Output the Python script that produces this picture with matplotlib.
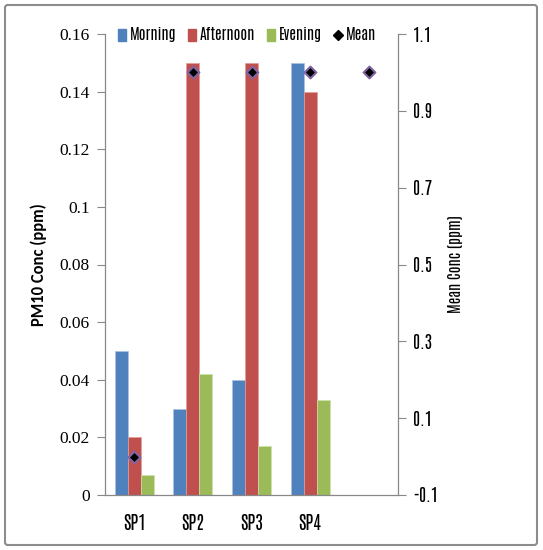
import matplotlib
matplotlib.use("Agg")
import matplotlib.pyplot as plt
import numpy as np
from matplotlib.patches import FancyBboxPatch, Patch
from matplotlib.lines import Line2D

categories = ["SP1", "SP2", "SP3", "SP4", ""]
morning = [0.05, 0.03, 0.04, 0.15]
afternoon = [0.02, 0.15, 0.15, 0.14]
evening = [0.007, 0.042, 0.017, 0.033]
mean_conc = [0.0, 1.0, 1.0, 1.0, 1.0]

left_ticks = [0, 0.02, 0.04, 0.06, 0.08, 0.1, 0.12, 0.14, 0.16]
left_labels = ["0", "0.02", "0.04", "0.06", "0.08", "0.1", "0.12", "0.14", "0.16"]
right_ticks = [-0.1, 0.1, 0.3, 0.5, 0.7, 0.9, 1.1]
right_labels = ["-0.1", "0.1", "0.3", "0.5", "0.7", "0.9", "1.1"]

C_MORN = "#4F81BD"
C_AFT = "#C0504D"
C_EVE = "#9BBB59"
GRID = "#888888"

narrow = ["Antonio", "Pathway Gothic One", "Barlow Condensed", "DejaVu Sans"]
serif = ["Liberation Serif", "DejaVu Serif"]
sans = ["Carlito", "Open Sans", "DejaVu Sans"]

W, H = 543, 550
fig = plt.figure(figsize=(W / 100, H / 100), dpi=100)

# outer chart border
fig.patches.append(FancyBboxPatch((5 / W, 5 / H), 532 / W, 540 / H,
                                  boxstyle="round,pad=0,rounding_size=0.005",
                                  transform=fig.transFigure, fill=False,
                                  edgecolor="#8c8c8c", linewidth=1.5))

x0, x1, ytop, ybot = 105, 398, 34, 495
ax = fig.add_axes([x0 / W, (H - ybot) / H, (x1 - x0) / W, (ybot - ytop) / H])

n = len(categories)
x = np.arange(n)
bw = 0.222
ax.bar(x[:4] - bw, morning, bw, color=C_MORN, edgecolor="#a9c3e4", linewidth=0.5, zorder=2)
ax.bar(x[:4], afternoon, bw, color=C_AFT, edgecolor="#e29c9a", linewidth=0.5, zorder=2)
ax.bar(x[:4] + bw, evening, bw, color=C_EVE, edgecolor="#cfe0ad", linewidth=0.5, zorder=2)

ax.set_xlim(-0.5, n - 0.5)
ax.set_ylim(0, 0.16)
ax.set_yticks(left_ticks)
ax.set_xticks(x)
ax.tick_params(axis="x", length=0, pad=14)
ax.tick_params(axis="y", direction="out", length=6, width=0.8, color=GRID, pad=5)
ax.set_yticklabels(left_labels, fontfamily=serif, fontsize=12.5)
ax.set_xticklabels(categories, fontfamily=narrow, fontsize=13, fontweight="bold")
for s in ["top", "right"]:
    ax.spines[s].set_visible(False)
for s in ["left", "bottom"]:
    ax.spines[s].set_color(GRID)
    ax.spines[s].set_linewidth(0.9)
ax.set_ylabel("PM10 Conc (ppm)", fontfamily=sans, fontsize=12,
              fontweight="bold", labelpad=9)

ax2 = ax.twinx()
ax2.set_ylim(-0.1, 1.1)
ax2.scatter(x, mean_conc, marker="D", s=36, color="black",
            edgecolors="#8064A2", linewidths=1.5, zorder=5)
ax2.set_yticks(right_ticks)
ax2.tick_params(axis="y", direction="out", length=6, width=0.8, color=GRID, pad=5)
ax2.set_yticklabels(right_labels, fontfamily=narrow, fontsize=12.5, fontweight="bold")
for s in ["top", "left", "bottom"]:
    ax2.spines[s].set_visible(False)
ax2.spines["right"].set_color(GRID)
ax2.spines["right"].set_linewidth(0.9)
ax2.set_ylabel("Mean Conc (ppm)", fontfamily=narrow, fontsize=11,
              fontweight="bold", labelpad=7)

handles = [Patch(color=C_MORN), Patch(color=C_AFT), Patch(color=C_EVE),
           Line2D([], [], marker="D", color="black", linestyle="none", markersize=5.5)]
fig.legend(handles, ["Morning", "Afternoon", "Evening", "Mean"],
           loc="center", bbox_to_anchor=(247 / W, 1 - 35 / H), ncol=4,
           frameon=False, handlelength=0.5, handleheight=0.8, handletextpad=0.25,
           columnspacing=0.8, prop={"family": narrow, "size": 11, "weight": "bold"})

fig.savefig("out.png", dpi=100)
